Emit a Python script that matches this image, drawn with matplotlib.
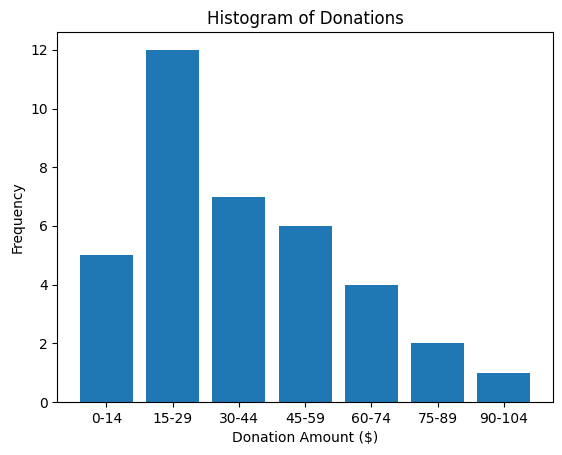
import matplotlib.pyplot as plt

bins = ['0-14', '15-29', '30-44', '45-59', '60-74', '75-89', '90-104']
counts = [5, 12, 7, 6, 4, 2, 1]

fig, ax = plt.subplots(figsize=(5.62, 4.55), dpi=100)
ax.bar(bins, counts, color='#1f77b4')
ax.set_title('Histogram of Donations')
ax.set_xlabel('Donation Amount ($)')
ax.set_ylabel('Frequency')
fig.subplots_adjust(left=57.3 / 562, right=553 / 562, top=1 - 32.3 / 455, bottom=1 - 402 / 455)

plt.savefig('out.png')
